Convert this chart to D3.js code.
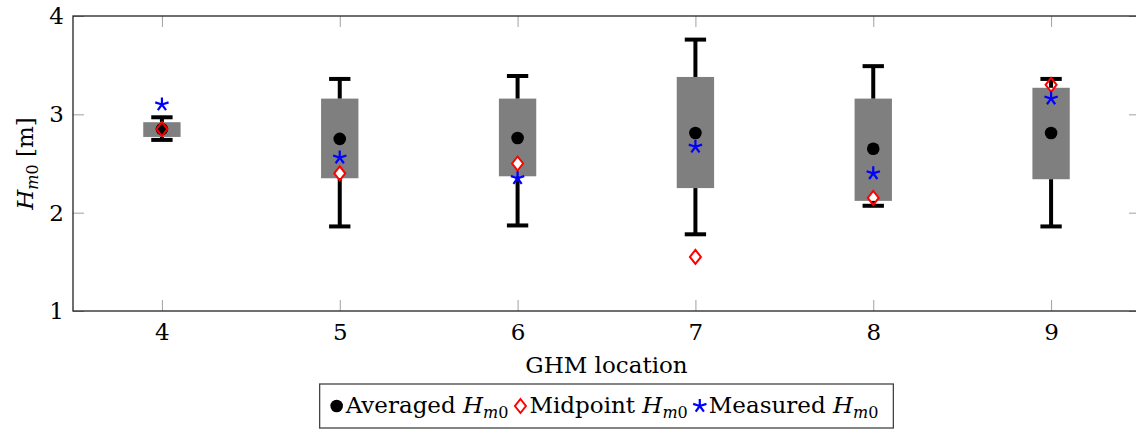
<!DOCTYPE html>
<html>
<head>
<meta charset="utf-8">
<script src="https://cdn.jsdelivr.net/npm/d3@7"></script>
<style>
body { margin: 0; background: #fff; }
text { font-family: "DejaVu Serif", serif; }
</style>
</head>
<body>
<svg id="chart" width="1136" height="430"></svg>
<script>
// GHM locations and box statistics (H_m0 in m)
var locations = [4, 5, 6, 7, 8, 9];
var whiskerLow = [2.74, 1.86, 1.87, 1.78, 2.07, 1.86];
var boxLow = [2.77, 2.35, 2.37, 2.25, 2.12, 2.34];
var boxHigh = [2.92, 3.16, 3.16, 3.38, 3.16, 3.27];
var whiskerHigh = [2.97, 3.36, 3.39, 3.76, 3.49, 3.36];
var averaged = [2.85, 2.75, 2.76, 2.81, 2.65, 2.81];
var midpoint = [2.85, 2.40, 2.50, 1.55, 2.15, 3.30];
var measured = [3.10, 2.56, 2.35, 2.67, 2.40, 3.16];
var xTicks = [4, 5, 6, 7, 8, 9];
var yTicks = [1, 2, 3, 4];

var svg = d3.select('#chart');
var plot = {left: 73, right: 1140, top: 16, bottom: 311};
var boxHalf = 0.105;   // half box width in x units
var capHalf = 0.06;
var fs = 23;

var x = d3.scaleLinear().domain([3.5, 9.5]).range([plot.left, plot.right]);
var y = d3.scaleLinear().domain([1, 4]).range([plot.bottom, plot.top]);

var rows = locations.map(function (loc, i) {
    return {loc: loc, wl: whiskerLow[i], bl: boxLow[i], bh: boxHigh[i], wh: whiskerHigh[i],
            avg: averaged[i], mid: midpoint[i], mea: measured[i]};
});

// axes (inward gray ticks on all four sides)
function styleAxis(g) {
    g.select('.domain').remove();
    g.selectAll('.tick line').attr('stroke', '#a0a0a0').attr('stroke-width', 1);
    g.selectAll('.tick text').attr('font-size', fs).attr('font-family', '"DejaVu Serif", serif').attr('fill', '#000');
}
svg.append('g').attr('transform', 'translate(0,' + plot.bottom + ')')
    .call(d3.axisBottom(x).tickValues(xTicks).tickSizeInner(-11).tickSizeOuter(0).tickPadding(13).tickFormat(d3.format('d')))
    .call(styleAxis);
svg.append('g').attr('transform', 'translate(0,' + plot.top + ')')
    .call(d3.axisTop(x).tickValues(xTicks).tickSizeInner(-11).tickSizeOuter(0).tickFormat(''))
    .call(styleAxis);
svg.append('g').attr('transform', 'translate(' + plot.left + ',0)')
    .call(d3.axisLeft(y).tickValues(yTicks).tickSizeInner(-11).tickSizeOuter(0).tickPadding(9).tickFormat(d3.format('d')))
    .call(styleAxis);
svg.append('g').attr('transform', 'translate(' + plot.right + ',0)')
    .call(d3.axisRight(y).tickValues(yTicks).tickSizeInner(-11).tickSizeOuter(0).tickFormat(''))
    .call(styleAxis);

svg.append('rect')
    .attr('x', plot.left).attr('y', plot.top)
    .attr('width', plot.right - plot.left).attr('height', plot.bottom - plot.top)
    .attr('fill', 'none').attr('stroke', '#222').attr('stroke-width', 1.3);

// boxes
svg.append('g').selectAll('rect').data(rows).enter().append('rect')
    .attr('x', function (d) { return x(d.loc - boxHalf); })
    .attr('width', function (d) { return x(d.loc + boxHalf) - x(d.loc - boxHalf); })
    .attr('y', function (d) { return y(d.bh); })
    .attr('height', function (d) { return y(d.bl) - y(d.bh); })
    .attr('fill', '#7f7f7f');

// markers
var diamondPath = 'M0,-7L5.5,0L0,7L-5.5,0Z';
function diamondFill(g) {
    g.append('path').attr('d', diamondPath).attr('fill', '#fff');
}
function diamondLine(g) {
    g.append('path').attr('d', diamondPath)
        .attr('fill', 'none').attr('stroke', '#f00').attr('stroke-width', 2);
}
function diamond(g) { diamondFill(g); diamondLine(g); }
function dot(g) {
    g.append('circle').attr('r', 6.3).attr('fill', '#000');
}
function star(g) {
    var p = '';
    for (var k = 0; k < 5; k++) {
        var a = (90 + 72 * k) / 180 * Math.PI;
        p += 'M0,0L' + (7 * Math.cos(a)).toFixed(2) + ',' + (-7 * Math.sin(a)).toFixed(2);
    }
    g.append('path').attr('d', p).attr('stroke', '#00f').attr('stroke-width', 2.2)
        .attr('fill', 'none');
}

function markLayer(key, fn) {
    svg.append('g').selectAll('g').data(rows).enter().append('g')
        .attr('transform', function (d) { return 'translate(' + x(d.loc) + ',' + y(d[key]) + ')'; })
        .each(function () { fn(d3.select(this)); });
}

// white diamond backs first, outlines drawn on top of whiskers and dots
markLayer('mid', diamondFill);

// whiskers
var wg = svg.append('g').attr('stroke', '#000').attr('stroke-width', 4);
rows.forEach(function (d) {
    wg.append('line').attr('x1', x(d.loc)).attr('x2', x(d.loc)).attr('y1', y(d.bh)).attr('y2', y(d.wh));
    wg.append('line').attr('x1', x(d.loc)).attr('x2', x(d.loc)).attr('y1', y(d.bl)).attr('y2', y(d.wl));
    wg.append('line').attr('x1', x(d.loc - capHalf)).attr('x2', x(d.loc + capHalf)).attr('y1', y(d.wh)).attr('y2', y(d.wh));
    wg.append('line').attr('x1', x(d.loc - capHalf)).attr('x2', x(d.loc + capHalf)).attr('y1', y(d.wl)).attr('y2', y(d.wl));
});

markLayer('avg', dot);
markLayer('mid', diamondLine);
markLayer('mea', star);

// H_m0 label helper
function hm0(t, prefix, suffix) {
    if (prefix) t.append('tspan').text(prefix);
    t.append('tspan').attr('font-style', 'italic').text('H');
    t.append('tspan').attr('font-style', 'italic').attr('font-size', 16).attr('dy', 5).text('m');
    t.append('tspan').attr('font-size', 16).text('0');
    if (suffix) t.append('tspan').attr('dy', -5).text(suffix);
}

// axis labels
svg.append('text')
    .attr('x', (plot.left + plot.right) / 2).attr('y', 373)
    .attr('text-anchor', 'middle').attr('font-size', fs)
    .text('GHM location');

var yl = svg.append('text')
    .attr('transform', 'translate(33,' + (plot.top + plot.bottom) / 2 + ') rotate(-90)')
    .attr('text-anchor', 'middle').attr('font-size', fs);
hm0(yl, null, '\u00a0[m]');

// legend
var legend = svg.append('g');
var items = [
    {name: 'Averaged\u00a0', mark: dot},
    {name: 'Midpoint\u00a0', mark: diamond},
    {name: 'Measured\u00a0', mark: star}
];
var cx = 0;
items.forEach(function (it, i) {
    var m = legend.append('g').attr('transform', 'translate(' + (cx + 7) + ',-7)');
    it.mark(m);
    var t = legend.append('text').attr('x', cx + 16).attr('y', 0).attr('font-size', fs);
    hm0(t, it.name, null);
    cx += 16 + t.node().getComputedTextLength() + 5;
});
var lw = cx + 20;
var lx = (plot.left + plot.right) / 2 - lw / 2;
legend.attr('transform', 'translate(' + (lx + 10) + ',413)');
svg.insert('rect', 'g')
    .attr('x', lx).attr('y', 384).attr('width', lw).attr('height', 44)
    .attr('fill', '#fff').attr('stroke', '#444').attr('stroke-width', 1.3);
</script>
</body>
</html>
